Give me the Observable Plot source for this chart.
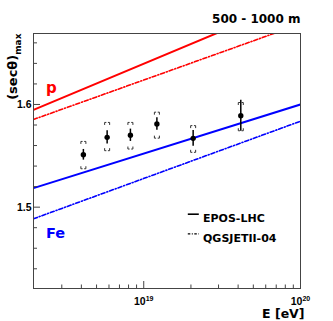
<!DOCTYPE html>
<html><head><meta charset="utf-8">
<script src="https://cdn.jsdelivr.net/npm/d3@7"></script>
<script src="https://cdn.jsdelivr.net/npm/@observablehq/plot@0.6"></script>
<style>body{margin:0;background:#fff}</style>
</head><body><div id="chart"></div>
<script>
// measured points
const energy = [4.12e18, 5.84e18, 8.22e18, 1.213e19, 2.066e19, 4.16e19];
const secMax = [1.551, 1.568, 1.570, 1.581, 1.567, 1.589];
const statErr = [0.0052, 0.0065, 0.006, 0.006, 0.0077, 0.015];
const sysUp = [0.013, 0.0145, 0.0125, 0.0115, 0.0124, 0.0129];
const sysDown = [0.0136, 0.013, 0.0134, 0.0138, 0.0136, 0.0146];

// model predictions (straight lines in log E)
const lineEnergy = [1.98e18, 1e20];
const protonEpos = [1.5948, 1.7035];
const protonQgsjet = [1.5854, 1.6784];
const ironEpos = [1.5185, 1.6];
const ironQgsjet = [1.4887, 1.5837];

// ticks
const yMajor = [1.5, 1.6];
const yMinor = [1.44, 1.46, 1.48, 1.52, 1.54, 1.56, 1.58, 1.62, 1.64, 1.66];
const yTickLabels = ["1.5", "1.6"];
const xMajor = [1e19, 1e20];
const xMinor = [3e18, 4e18, 5e18, 6e18, 7e18, 8e18, 9e18, 2e19, 3e19, 4e19, 5e19, 6e19, 7e19, 8e19, 9e19];
const xTickBase = ["10", "10"];
const xTickExp = ["19", "20"];
const legendLabels = ["EPOS-LHC", "QGSJETII-04"];
const title = "500 - 1000 m";
const yLabel = "(secθ)";
const yLabelSub = "max";

const W = 333, H = 321, mL = 33, mR = 33, mT = 33, mB = 33;
const fw = W - mL - mR, fh = H - mT - mB;

const pts = energy.map((e, i) => ({e, v: secMax[i], s: statErr[i], up: sysUp[i], dn: sysDown[i]}));
const mk = (vals) => lineEnergy.map((e, i) => ({e, v: vals[i]}));

const bracketTop = {draw(c) { c.moveTo(-2.5, 2.5); c.lineTo(-2.5, 0); c.lineTo(-0.8, 0); c.moveTo(0.8, 0); c.lineTo(2.5, 0); c.lineTo(2.5, 2.5); }};
const bracketBot = {draw(c) { c.moveTo(-2.5, -2.5); c.lineTo(-2.5, 0); c.lineTo(-0.8, 0); c.moveTo(0.8, 0); c.lineTo(2.5, 0); c.lineTo(2.5, -2.5); }};
const hline = {draw(c) { c.moveTo(-5.5, 0); c.lineTo(5.5, 0); }};

const DV = "DejaVu Sans", LB = "Liberation Sans";

const plot = Plot.plot({
  width: W, height: H,
  marginLeft: mL, marginRight: mR, marginTop: mT, marginBottom: mB,
  x: {type: "log", domain: [1.98e18, 1e20], axis: null},
  y: {domain: [1.4208, 1.6691], axis: null},
  style: {background: "white"},
  marks: [
    Plot.line(mk(protonEpos), {x: "e", y: "v", stroke: "#ff0000", strokeWidth: 2, clip: true}),
    Plot.line(mk(protonQgsjet), {x: "e", y: "v", stroke: "#ff0000", strokeWidth: 1.6, strokeDasharray: "4,2,1,2", clip: true}),
    Plot.line(mk(ironEpos), {x: "e", y: "v", stroke: "#0000ff", strokeWidth: 2, clip: true}),
    Plot.line(mk(ironQgsjet), {x: "e", y: "v", stroke: "#0000ff", strokeWidth: 1.6, strokeDasharray: "4,2,1,2", clip: true}),
    Plot.ruleX(pts, {x: "e", y1: d => d.v - d.s, y2: d => d.v + d.s, stroke: "black", strokeWidth: 1.5}),
    Plot.dot(pts, {x: "e", y: d => d.v + d.up, symbol: bracketTop, fill: "none", stroke: "#333", strokeWidth: 1}),
    Plot.dot(pts, {x: "e", y: d => d.v - d.dn, symbol: bracketBot, fill: "none", stroke: "#333", strokeWidth: 1}),
    Plot.dot(pts, {x: "e", y: "v", r: 2.7, fill: "black", stroke: "none"}),
    // axis ticks (inward)
    Plot.tickY(yMajor, {y: d => d, insetRight: fw - 7, stroke: "#444"}),
    Plot.tickY(yMinor, {y: d => d, insetRight: fw - 4, stroke: "#444"}),
    Plot.tickX(xMajor, {x: d => d, insetTop: fh - 7, stroke: "#444"}),
    Plot.tickX(xMinor, {x: d => d, insetTop: fh - 3.5, stroke: "#444"}),
    Plot.frame({stroke: "#444", strokeWidth: 1}),
    // tick labels
    Plot.text(yMajor, {y: d => d, text: (d, i) => yTickLabels[i], frameAnchor: "left", textAnchor: "end", dx: -2, fontFamily: LB, fontWeight: "bold", fontSize: 10.5, fill: "black"}),
    Plot.text(xMajor, {x: d => d, text: (d, i) => xTickBase[i], frameAnchor: "bottom", lineAnchor: "bottom", textAnchor: "middle", dy: 16.5, fontFamily: LB, fontWeight: "bold", fontSize: 10.5, fill: "black"}),
    // labels p / Fe
    Plot.text(["p"], {x: () => 2.38e18, y: () => 1.6107, text: d => d, textAnchor: "start", lineAnchor: "bottom", fill: "#ff0000", fontFamily: DV, fontWeight: "bold", fontSize: 15}),
    Plot.text(["Fe"], {x: () => 2.38e18, y: () => 1.4702, text: d => d, textAnchor: "start", lineAnchor: "bottom", fill: "#0000ff", fontFamily: DV, fontWeight: "bold", fontSize: 14.5}),
    // legend
    Plot.dot([0], {frameAnchor: "top-left", dx: 159.8, dy: 180.7, symbol: hline, fill: "none", stroke: "black", strokeWidth: 1.6}),
    Plot.dot([0], {frameAnchor: "top-left", dx: 159.8, dy: 200.3, symbol: hline, fill: "none", stroke: "black", strokeWidth: 1.2, strokeDasharray: "2.5,1.5,1,1.5"}),
    Plot.text([legendLabels[0]], {frameAnchor: "top-left", text: d => d, dx: 169.5, dy: 180.7, textAnchor: "start", fontFamily: DV, fontWeight: "bold", fontSize: 11, fill: "black"}),
    Plot.text([legendLabels[1]], {frameAnchor: "top-left", text: d => d, dx: 169.5, dy: 200.3, textAnchor: "start", fontFamily: DV, fontWeight: "bold", fontSize: 11, fill: "black"}),
    // title and axis labels
    Plot.text([title], {frameAnchor: "top-right", text: d => d, textAnchor: "end", lineAnchor: "bottom", dx: 0, dy: -10.7, fontFamily: DV, fontWeight: "bold", fontSize: 12, fill: "black"}),
    Plot.text(["E [eV]"], {frameAnchor: "bottom-right", text: d => d, textAnchor: "end", lineAnchor: "bottom", dx: 4, dy: 29.8, fontFamily: DV, fontWeight: "bold", fontSize: 12.5, fill: "black"}),
    Plot.text([yLabel], {frameAnchor: "top-left", text: d => d, rotate: -90, textAnchor: "end", lineAnchor: "bottom", dx: -16.5, dy: 0, fontFamily: DV, fontWeight: "bold", fontSize: 13, fill: "black"})
  ]
});

const NS = "http://www.w3.org/2000/svg";
let k = 0;
plot.querySelectorAll("text").forEach((t) => {
  if (t.textContent === "10" && k < xTickExp.length) {
    const ts = document.createElementNS(NS, "tspan");
    ts.setAttribute("dy", "-4.5");
    ts.setAttribute("font-size", "7");
    ts.textContent = xTickExp[k++];
    t.appendChild(ts);
  } else if (t.textContent === yLabel) {
    const ts = document.createElementNS(NS, "tspan");
    ts.setAttribute("dy", "3.5");
    ts.setAttribute("font-size", "9");
    ts.textContent = yLabelSub;
    t.appendChild(ts);
  }
});
document.getElementById("chart").appendChild(plot);
</script>
</body></html>
